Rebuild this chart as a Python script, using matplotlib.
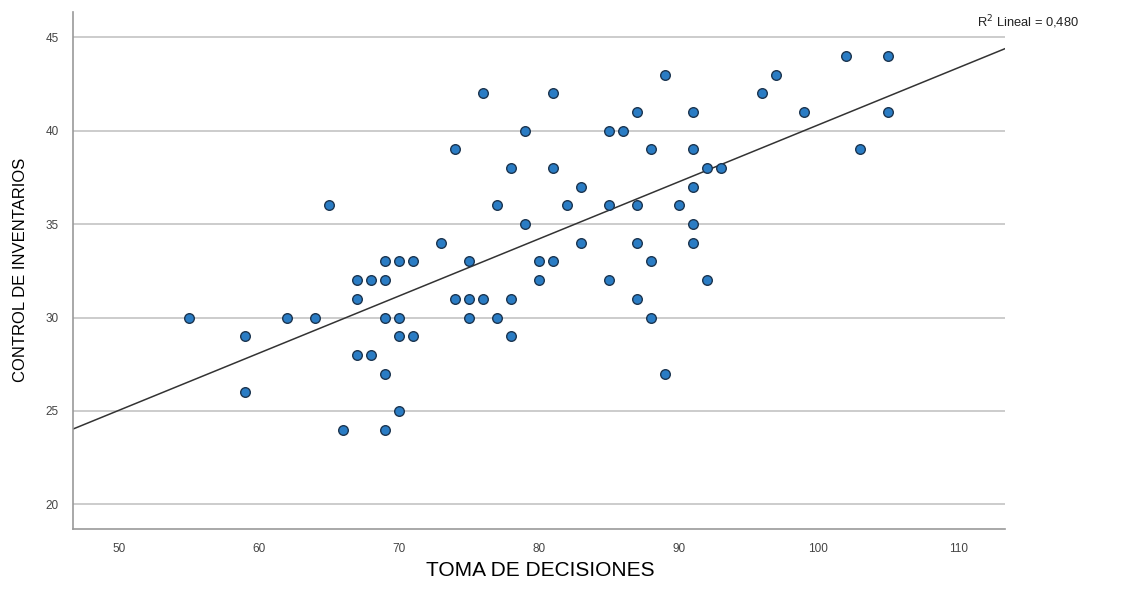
import matplotlib.pyplot as plt
import numpy as np

plt.rcParams["font.family"] = ["Liberation Sans", "DejaVu Sans"]

# TOMA DE DECISIONES (x) vs CONTROL DE INVENTARIOS (y)
toma = [55, 59, 59, 62, 64, 65, 66, 67, 67, 67, 68, 68, 69, 69, 69, 69, 69,
        70, 70, 70, 70, 71, 71, 73, 74, 74, 75, 75, 75, 76, 76, 77, 77,
        78, 78, 78, 79, 79, 80, 80, 81, 81, 81, 82, 83, 83, 85, 85, 85,
        86, 87, 87, 87, 87, 88, 88, 88, 89, 89, 90, 91, 91, 91, 91, 91,
        92, 92, 93, 96, 97, 99, 102, 103, 105, 105]
control = [30, 29, 26, 30, 30, 36, 24, 32, 31, 28, 32, 28, 33, 32, 30, 27, 24,
           33, 30, 29, 25, 33, 29, 34, 39, 31, 33, 31, 30, 42, 31, 36, 30,
           38, 31, 29, 40, 35, 33, 32, 42, 38, 33, 36, 37, 34, 40, 36, 32,
           40, 41, 36, 34, 31, 39, 33, 30, 43, 27, 36, 41, 39, 37, 35, 34,
           38, 32, 38, 42, 43, 41, 44, 39, 44, 41]
r2_text = "R$^2$ Lineal = 0,480"
x_ticks = [50, 60, 70, 80, 90, 100, 110]
y_ticks = [20, 25, 30, 35, 40, 45]

x = np.array(toma, dtype=float)
y = np.array(control, dtype=float)
slope, intercept = np.polyfit(x, y, 1)

fig = plt.figure(figsize=(11.22, 5.89), dpi=100)
ax = fig.add_axes([0.065, 0.102, 0.831, 0.878])

xmin, xmax = 46.7, 113.36
ax.set_xlim(xmin, xmax)
ax.set_ylim(18.68, 46.37)

ax.set_yticks(y_ticks)
ax.set_xticks(x_ticks)
ax.grid(axis="y", color="#cccccc", linewidth=1.4)
ax.set_axisbelow(True)
ax.tick_params(length=0, labelsize=8.5, colors="#444444", pad=10)

for side in ("top", "right"):
    ax.spines[side].set_visible(False)
for side in ("left", "bottom"):
    ax.spines[side].set_color("#999999")
    ax.spines[side].set_linewidth(1.2)

line_x = np.array([xmin, xmax])
ax.plot(line_x, intercept + slope * line_x, color="#333333", linewidth=1.1, zorder=2)

ax.scatter(x, y, s=48, color="#2a7cc4", edgecolors="#1c3550",
           linewidths=1.0, zorder=3)

fig.text(0.482, 0.031, "TOMA DE DECISIONES", fontsize=15, color="black",
         ha="center", va="center")
fig.text(0.018, 0.541, "CONTROL DE INVENTARIOS", fontsize=12, color="black",
         rotation=90, ha="center", va="center")

fig.text(0.8705, 0.962, r2_text, fontsize=9.3, color="#222222",
         ha="left", va="center")

fig.savefig("out.png", dpi=100, facecolor="white")
